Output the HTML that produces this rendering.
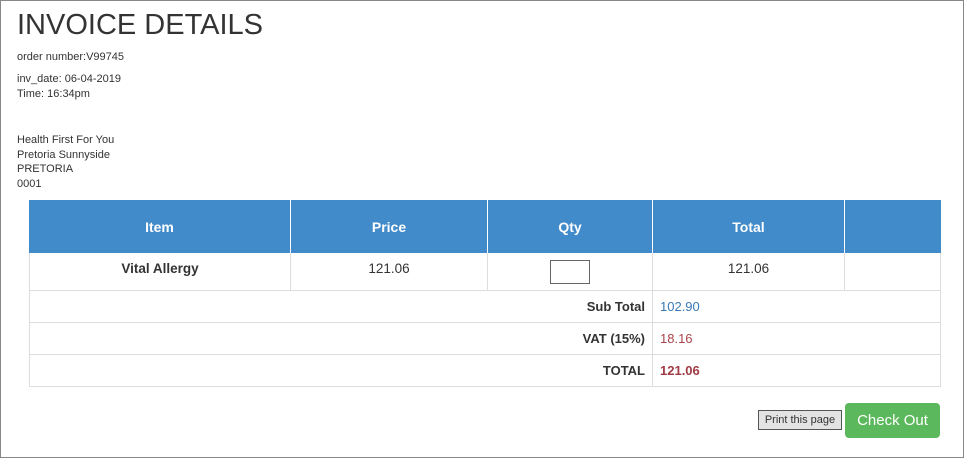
<!DOCTYPE html>
<html><head><meta charset="utf-8"><style>
body{margin:0;width:964px;height:458px;overflow:hidden;background:#fff;font-family:"Liberation Sans",Arial,sans-serif;color:#333}
.frame{position:absolute;left:0;top:0;width:962px;height:456px;border:1px solid #888}
.a{position:absolute;white-space:nowrap}
.s{font-size:11px;line-height:14.7px}
.c{position:absolute;box-sizing:border-box;display:flex;align-items:center;font-size:14px}
.hd{background:#428bca;color:#fff;font-weight:bold;justify-content:center;border-right:1px solid #fff}
.bd{border-right:1px solid #ddd;border-bottom:1px solid #ddd;justify-content:center}
.r1{font-size:13.5px;align-items:flex-start;padding-top:8px}
</style></head><body>
<div class="frame"></div>
<div class="a" style="left:17px;top:8px;font-size:29px;line-height:34px;color:#333">INVOICE DETAILS</div>
<div class="a s" style="left:17px;top:50px">order number:V99745</div>
<div class="a s" style="left:17px;top:72px">inv_date: 06-04-2019<br>Time: 16:34pm</div>
<div class="a s" style="left:17px;top:133px">Health First For You<br>Pretoria Sunnyside<br>PRETORIA<br>0001</div>

<div>
<div class="c hd" style="left:29px;top:200px;width:262px;height:53px">Item</div>
<div class="c hd" style="left:291px;top:200px;width:197px;height:53px">Price</div>
<div class="c hd" style="left:488px;top:200px;width:165px;height:53px">Qty</div>
<div class="c hd" style="left:653px;top:200px;width:192px;height:53px">Total</div>
<div class="c hd" style="left:845px;top:200px;width:96px;height:53px;border-right:none"></div>

<div class="c bd r1" style="left:29px;top:253px;width:262px;height:38px;border-left:1px solid #ddd;font-weight:bold">Vital Allergy</div>
<div class="c bd r1" style="left:291px;top:253px;width:197px;height:38px">121.06</div>
<div class="c bd" style="left:488px;top:253px;width:165px;height:38px;align-items:flex-start;padding-top:7px"><input type="text" style="width:40px;height:24px;box-sizing:border-box;border:1px solid #666;padding:0;margin:0"></div>
<div class="c bd r1" style="left:653px;top:253px;width:192px;height:38px">121.06</div>
<div class="c bd" style="left:845px;top:253px;width:96px;height:38px"></div>

<div class="c bd" style="left:29px;top:291px;width:624px;height:32px;border-left:1px solid #ddd;justify-content:flex-end;padding-right:7px;font-weight:bold;font-size:13px">Sub Total</div>
<div class="c bd" style="left:653px;top:291px;width:288px;height:32px;justify-content:flex-start;padding-left:7px;color:#3a78b5;font-size:13px">102.90</div>
<div class="c bd" style="left:29px;top:323px;width:624px;height:32px;border-left:1px solid #ddd;justify-content:flex-end;padding-right:7px;font-weight:bold;font-size:13px">VAT (15%)</div>
<div class="c bd" style="left:653px;top:323px;width:288px;height:32px;justify-content:flex-start;padding-left:7px;color:#a9444a;font-size:13px">18.16</div>
<div class="c bd" style="left:29px;top:355px;width:624px;height:32px;border-left:1px solid #ddd;justify-content:flex-end;padding-right:7px;font-weight:bold;font-size:13px">TOTAL</div>
<div class="c bd" style="left:653px;top:355px;width:288px;height:32px;justify-content:flex-start;padding-left:7px;color:#a03a44;font-weight:bold;font-size:13px">121.06</div>
</div>

<div class="a" style="left:758px;top:410px;width:84px;height:20px;box-sizing:border-box;border:1px solid #555;background:#e3e3e3;font-size:11px;line-height:19px;text-align:center">Print this page</div>
<div class="a" style="left:845px;top:403px;width:95px;height:35px;background:#5cb85c;border-radius:4px;color:#fff;font-size:15px;line-height:36px;text-align:center">Check Out</div>
</body></html>
